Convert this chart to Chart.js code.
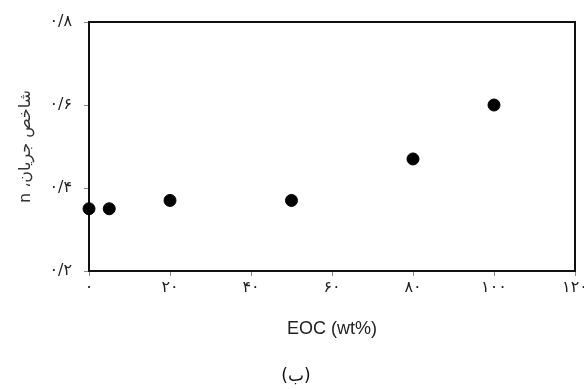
<!DOCTYPE html>
<html>
<head>
<meta charset="utf-8">
<script src="https://cdn.jsdelivr.net/npm/chart.js@4"></script>
<style>
    html, body { margin: 0; padding: 0; background: #fff; }
    #caja { width: 584px; height: 389px; }
</style>
</head>
<body>
<div id="caja"><canvas id="grafica"></canvas></div>
<script>
// Datos
let eocValores = [0, 5, 20, 50, 80, 100];
let indiceN = [0.35, 0.35, 0.37, 0.37, 0.47, 0.60];

// Etiquetas de los ejes (cifras persas)
let xTicksValores = [0, 20, 40, 60, 80, 100, 120];
let xTicksEtiquetas = ['۰', '۲۰', '۴۰', '۶۰', '۸۰', '۱۰۰', '۱۲۰'];
let yTicksValores = [0.2, 0.4, 0.6, 0.8];
let yTicksEtiquetas = ['۰/۲', '۰/۴', '۰/۶', '۰/۸'];

let tituloX = 'EOC (wt%)';
// incrustación RTL para que la "n" quede al final de la frase
let tituloY = '\u202Bشاخص جریان، n\u202C';
let leyenda = '(ب)';

// Busca la etiqueta que corresponde a un valor de tick
function etiqueta(valores, etiquetas, v) {
    for (let i = 0; i < valores.length; i++) {
        if (Math.abs(valores[i] - v) < 1e-6) return etiquetas[i];
    }
    return '';
}

// Marco completo del área de la gráfica y el texto inferior
let marco = {
    id: 'marco',
    beforeDatasetsDraw(chart) {
        let a = chart.chartArea;
        let ctx = chart.ctx;
        ctx.save();
        ctx.strokeStyle = '#111';
        ctx.lineWidth = 2;
        ctx.strokeRect(a.left, a.top, a.right - a.left, a.bottom - a.top);
        ctx.restore();
    },
    afterDraw(chart) {
        let ctx = chart.ctx;
        ctx.save();
        ctx.fillStyle = '#111';
        ctx.font = '17px "DejaVu Sans", sans-serif';
        ctx.textAlign = 'center';
        ctx.textBaseline = 'middle';
        ctx.fillText(leyenda, 296, 377);
        ctx.restore();
    }
};

let ctx = document.getElementById('grafica').getContext('2d');

window.myChart = new Chart(ctx, {
    type: 'scatter',
    data: {
        datasets: [{
            data: eocValores.map((x, i) => ({ x: x, y: indiceN[i] })),
            backgroundColor: '#000',
            borderColor: '#000',
            pointRadius: 6,
            pointHoverRadius: 6,
            clip: false
        }]
    },
    options: {
        responsive: true,
        maintainAspectRatio: false,
        animation: false,
        layout: { padding: { top: 22, right: 9, left: 0, bottom: 0 } },
        plugins: {
            legend: { display: false },
            tooltip: { enabled: false }
        },
        scales: {
            x: {
                type: 'linear',
                min: 0,
                max: 120,
                afterBuildTicks: (s) => { s.ticks = xTicksValores.map(v => ({ value: v })); },
                afterFit: (s) => { s.height = 118; s.paddingLeft = 0; s.paddingRight = 0; },
                ticks: {
                    color: '#222',
                    font: { family: '"DejaVu Sans", sans-serif', size: 16 },
                    padding: 2,
                    maxRotation: 0,
                    callback: (v) => etiqueta(xTicksValores, xTicksEtiquetas, v)
                },
                grid: { drawOnChartArea: false, drawTicks: true, tickLength: 5, color: '#888' },
                border: { color: '#111', width: 2 },
                title: {
                    display: true,
                    text: tituloX,
                    color: '#222',
                    font: { family: '"Liberation Sans", Arial, sans-serif', size: 18 },
                    padding: { top: 0, bottom: 49 }
                }
            },
            y: {
                type: 'linear',
                min: 0.2,
                max: 0.8,
                afterBuildTicks: (s) => { s.ticks = yTicksValores.map(v => ({ value: v })); },
                afterFit: (s) => { s.width = 89; s.paddingTop = 0; s.paddingBottom = 0; },
                ticks: {
                    color: '#222',
                    font: { family: '"DejaVu Sans", sans-serif', size: 16 },
                    padding: 12,
                    callback: (v) => etiqueta(yTicksValores, yTicksEtiquetas, v)
                },
                grid: { drawOnChartArea: false, drawTicks: true, tickLength: 5, color: '#888' },
                border: { color: '#111', width: 2 },
                title: {
                    display: true,
                    text: tituloY,
                    color: '#333',
                    font: { family: '"DejaVu Sans", sans-serif', size: 16 },
                    padding: { top: 16, bottom: 0 }
                }
            }
        }
    },
    plugins: [marco]
});
</script>
</body>
</html>
